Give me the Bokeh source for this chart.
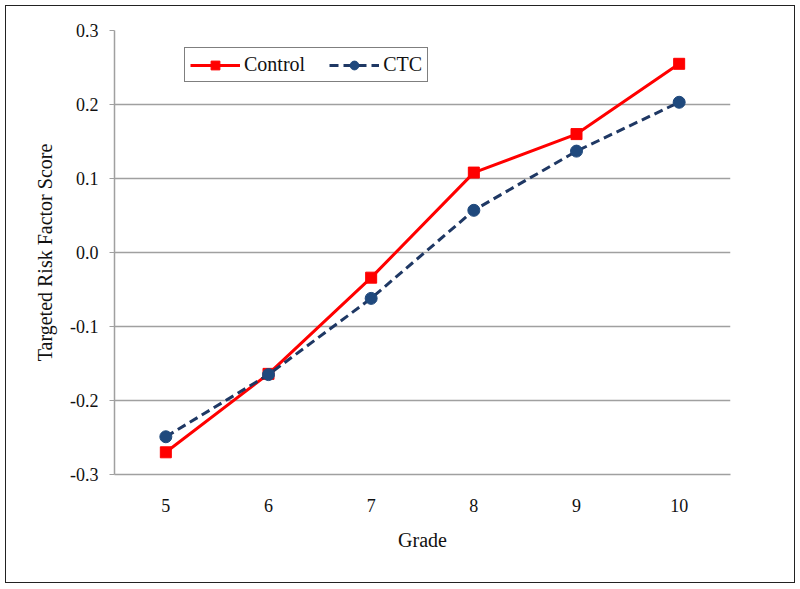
from bokeh.plotting import figure
from bokeh.models import Range1d, FixedTicker, PrintfTickFormatter, Legend, LegendItem
from bokeh.embed import file_html
from bokeh.resources import INLINE

grades = [5, 6, 7, 8, 9, 10]
control = [-0.270, -0.164, -0.034, 0.108, 0.160, 0.255]
ctc = [-0.249, -0.165, -0.062, 0.057, 0.137, 0.203]
y_ticks = [-0.3, -0.2, -0.1, 0.0, 0.1, 0.2, 0.3]

FONT = "Liberation Serif"
RED = "#FF0000"
NAVY_LINE = "#1F3864"
NAVY_MARK = "#1F497D"

p = figure(width=790, height=578, output_backend="svg", toolbar_location=None,
           x_range=Range1d(4.5, 10.5), y_range=Range1d(-0.3, 0.3),
           min_border_left=108, min_border_right=66, min_border_top=24,
           min_border_bottom=110)
p.styles = {"border": "1px solid #222222", "margin-left": "5px", "margin-top": "5px"}
p.outline_line_color = None
p.background_fill_color = "white"

# x axis
p.xaxis.ticker = FixedTicker(ticks=grades)
p.xaxis.major_tick_line_color = None
p.xaxis.minor_tick_line_color = None
p.xaxis.axis_line_color = "#A0A0A0"
p.xaxis.axis_line_width = 1.5
p.xaxis.major_label_text_font = FONT
p.xaxis.major_label_text_font_size = "18px"
p.xaxis.major_label_text_color = "#111111"
p.xaxis.major_label_standoff = 18
p.xaxis.axis_label = "Grade"
p.xaxis.axis_label_text_font = FONT
p.xaxis.axis_label_text_font_size = "20px"
p.xaxis.axis_label_text_font_style = "normal"
p.xaxis.axis_label_text_color = "#111111"
p.xaxis.axis_label_standoff = 14

# y axis
p.yaxis.ticker = FixedTicker(ticks=y_ticks)
p.yaxis.formatter = PrintfTickFormatter(format="%.1f")
p.yaxis.major_tick_out = 5
p.yaxis.major_tick_in = 0
p.yaxis.minor_tick_line_color = None
p.yaxis.major_tick_line_color = "#A0A0A0"
p.yaxis.axis_line_color = "#A0A0A0"
p.yaxis.axis_line_width = 1.5
p.yaxis.major_label_text_font = FONT
p.yaxis.major_label_text_font_size = "18px"
p.yaxis.major_label_text_color = "#111111"
p.yaxis.major_label_standoff = 11
p.yaxis.axis_label = "Targeted Risk Factor Score"
p.yaxis.axis_label_text_font = FONT
p.yaxis.axis_label_text_font_size = "20px"
p.yaxis.axis_label_text_font_style = "normal"
p.yaxis.axis_label_text_color = "#111111"
p.yaxis.axis_label_standoff = 11

p.xgrid.visible = False
p.ygrid.ticker = FixedTicker(ticks=y_ticks)
p.ygrid.grid_line_color = "#A0A0A0"
p.ygrid.grid_line_width = 1.5

l1 = p.line(grades, control, line_color=RED, line_width=3)
s1 = p.scatter(grades, control, marker="square", size=11, fill_color=RED, line_color=RED)
l2 = p.line(grades, ctc, line_color=NAVY_LINE, line_width=3, line_dash="9 5")
s2 = p.scatter(grades, ctc, marker="circle", size=12, fill_color=NAVY_MARK, line_color=NAVY_MARK)

legend = Legend(items=[LegendItem(label="Control", renderers=[l1, s1]),
                       LegendItem(label="CTC", renderers=[l2, s2])],
                location=(70, 392), orientation="horizontal",
                border_line_color="black", border_line_width=1.5,
                label_text_font=FONT, label_text_font_size="20px",
                label_text_color="#111111",
                glyph_width=50, glyph_height=22, label_standoff=4,
                spacing=24, padding=5, margin=0)
p.add_layout(legend)

open("out.html", "w").write(file_html(p, INLINE))
